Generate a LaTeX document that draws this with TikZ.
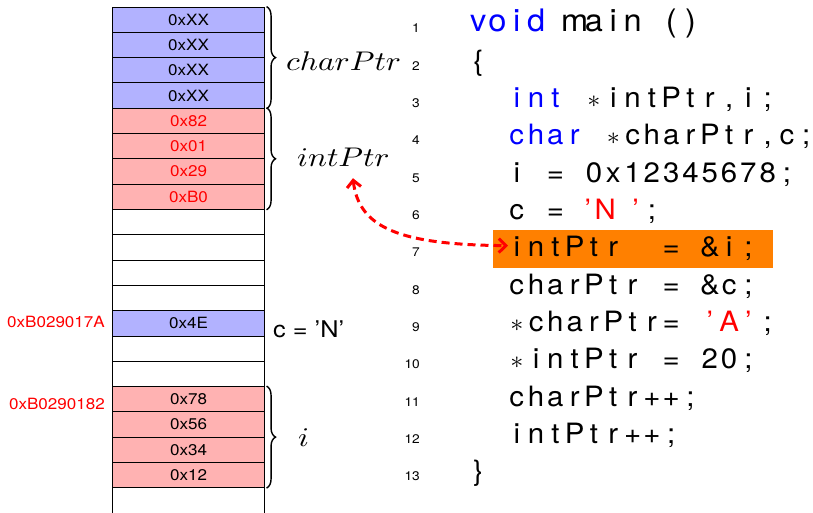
\documentclass[tikz,border=0pt]{standalone}
\usepackage{fontspec}
\usepackage{graphicx}
\usetikzlibrary{arrows.meta,decorations.pathreplacing,calc}
\newfontfamily\hv{TeX Gyre Heros}
\definecolor{memblue}{RGB}{178,178,255}
\definecolor{memred}{RGB}{255,178,178}
\definecolor{kwblue}{RGB}{0,0,255}
\definecolor{strred}{RGB}{255,0,0}
\definecolor{hlorange}{RGB}{255,128,0}
\newcommand\hx[1]{\scalebox{1.1}[1]{#1}}
\newcommand\cx[1]{\scalebox{1.05}[1]{#1}}
\newcommand\cc[1]{\makebox[19.3pt][c]{\cx{#1}}}
\newcommand\bc[1]{\cc{\color{kwblue}#1}}
\newcommand\rc[1]{\cc{\color{strred}#1}}
\newcommand\rs[2]{\makebox[19.3pt][c]{\hspace*{#1}\cx{\color{strred}#2}}}
\newcommand\st{\cc{$\ast$}}
\begin{document}
\begin{tikzpicture}[x=1pt,y=-1pt,
  cell/.style={draw=black,line width=0.8pt,minimum width=151.3pt,minimum height=25.3pt,inner sep=0pt,font=\hv\fontsize{15.5}{15.5}\selectfont},
  brc/.style={decorate,decoration={brace,amplitude=9pt,raise=2pt},line width=1.4pt},
  mlabel/.style={inner sep=0pt,anchor=base west},
  code/.style={inner sep=0pt,anchor=base west,font=\hv\fontsize{28}{28}\selectfont},
  lnum/.style={inner sep=0pt,anchor=base east,font=\hv\fontsize{12.5}{12.5}\selectfont},
  addr/.style={inner sep=0pt,anchor=east,text=strred,font=\hv\fontsize{15.5}{15.5}\selectfont},
  tip/.tip={Straight Barb[length=7pt,width=14pt]}
]
\useasboundingbox (0,0) rectangle (813,513);
% memory cells
\foreach \k/\f/\tc/\t in {0/memblue/black/0xXX,1/memblue/black/0xXX,2/memblue/black/0xXX,3/memblue/black/0xXX,
  4/memred/strred/0x82,5/memred/strred/0x01,6/memred/strred/0x29,7/memred/strred/0xB0,
  8/white/black/{},9/white/black/{},10/white/black/{},11/white/black/{},
  12/memblue/black/0x4E,13/white/black/{},14/white/black/{},
  15/memred/black/0x78,16/memred/black/0x56,17/memred/black/0x34,18/memred/black/0x12}
  \node[cell,fill=\f,text=\tc] (c\k) at (188.5,{7+25.3*(\k+0.5)}) {\hx{\t}};
\node[cell,draw=none] (c19) at (188.5,{7+25.3*19.5}) {};
\draw[line width=0.8pt] (c19.north west) -- (c19.south west) (c19.north east) -- (c19.south east);
% addresses
\node[addr] (a1) at (105,321.5) {\hx{0xB029017A}};
\node[addr] (a2) at (105,403.5) {\hx{0xB0290182}};
% braces and labels
\draw[brc] (c0.north east) -- (c3.south east);
\draw[brc] (c4.north east) -- (c7.south east);
\draw[brc] (c15.north east) -- (c18.south east);
\node[mlabel] (lcp) at (286,71) {\scalebox{3.16}[2.7]{$charPtr$}};
\node[mlabel] (lip) at (297,167) {\scalebox{3.16}[2.7]{$intPtr$}};
\node[mlabel] (li) at (298,446) {\scalebox{3.16}[2.7]{$i$}};
\node[mlabel,font=\hv\fontsize{23}{23}\selectfont] (cN) at (273,337) {\hx{c = ’N’}};
% highlight
\node[fill=hlorange,inner sep=0pt,minimum width=280pt,minimum height=38pt] (hl) at (633,249) {};
% line numbers
\foreach \k in {1,...,13}
  \node[lnum] (n\k) at (420,{33+37.3*(\k-1)}) {\hx{\k}};
% code
\node[code] (l1) at (468.35,32) {\fontsize{31}{31}\selectfont\bc{v}\bc{o}\bc{i}\bc{d}\cc{}\cc{m}\cc{a}\cc{i}\cc{n}\cc{}\cc{(}\cc{)}};
\node[code] (l2) at (468.35,70.3) {\cc{\{}};
\node[code] (l3) at (506.95,107.6) {\bc{i}\bc{n}\bc{t}\cc{}\st\cc{i}\cc{n}\cc{t}\cc{P}\cc{t}\cc{r}\cc{,}\cc{i}\cc{;}};
\node[code] (l4) at (506.95,144.9) {\bc{c}\bc{h}\bc{a}\bc{r}\cc{}\st\cc{c}\cc{h}\cc{a}\cc{r}\cc{P}\cc{t}\cc{r}\cc{,}\cc{c}\cc{;}};
\node[code] (l5) at (506.95,182.2) {\cc{i}\cc{}\cc{=}\cc{}\cc{0}\cc{x}\cc{1}\cc{2}\cc{3}\cc{4}\cc{5}\cc{6}\cc{7}\cc{8}\cc{;}};
\node[code] (l6) at (506.95,219.5) {\cc{c}\cc{}\cc{=}\cc{}\rs{-12pt}{’}\rs{-16pt}{N}\rs{6pt}{’}\cc{;}};
\node[code] (l7) at (506.95,256.8) {\cc{i}\cc{n}\cc{t}\cc{P}\cc{t}\cc{r}\cc{}\cc{}\cc{=}\cc{}\cc{\&}\cc{i}\cc{;}};
\node[code] (l8) at (506.95,294.1) {\cc{c}\cc{h}\cc{a}\cc{r}\cc{P}\cc{t}\cc{r}\cc{}\cc{=}\cc{}\cc{\&}\cc{c}\cc{;}};
\node[code] (l9) at (506.95,331.4) {\st\cc{c}\cc{h}\cc{a}\cc{r}\cc{P}\cc{t}\cc{r}\cc{=}\cc{}\rc{’}\rc{A}\rc{’}\cc{;}};
\node[code] (l10) at (506.95,368.7) {\st\cc{i}\cc{n}\cc{t}\cc{P}\cc{t}\cc{r}\cc{}\cc{=}\cc{}\cc{2}\cc{0}\cc{;}};
\node[code] (l11) at (506.95,406) {\cc{c}\cc{h}\cc{a}\cc{r}\cc{P}\cc{t}\cc{r}\cc{+}\cc{+}\cc{;}};
\node[code] (l12) at (506.95,443.3) {\cc{i}\cc{n}\cc{t}\cc{P}\cc{t}\cc{r}\cc{+}\cc{+}\cc{;}};
\node[code] (l13) at (468.35,480.6) {\cc{\}}};
% arrow
\draw[strred,line width=3pt,dash pattern=on 8pt off 5pt,{tip}-{tip}]
  ($(lip.south)+(9.5,11)$) .. controls +(6,50) and +(-108,-1) .. ($(l7.west)+(1,-3)$);
\end{tikzpicture}
\end{document}
